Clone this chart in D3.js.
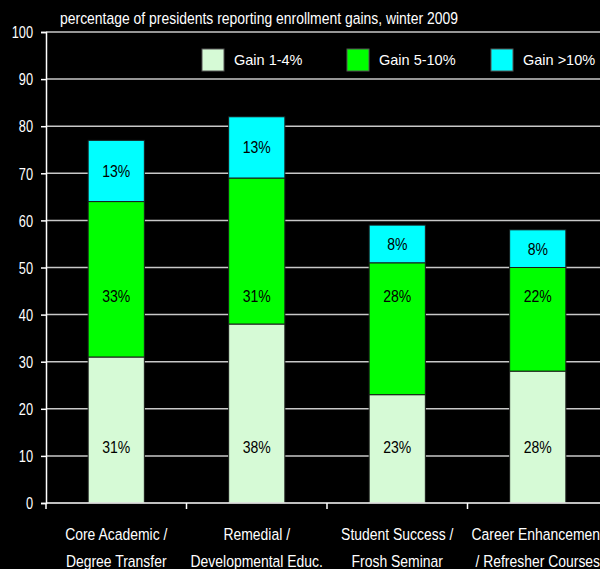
<!DOCTYPE html>
<html>
<head>
<meta charset="utf-8">
<script src="https://cdn.jsdelivr.net/npm/d3@7"></script>
<style>
  body { margin: 0; background: #000; overflow: hidden; }
  text { font-family: "Liberation Sans", Arial, sans-serif; }
</style>
</head>
<body>
<svg class="chart"></svg>
<script>
// chart data
var categories = [
  ["Core Academic /", "Degree Transfer"],
  ["Remedial   /", "Developmental Educ."],
  ["Student Success /", "Frosh Seminar"],
  ["Career Enhancement", "/ Refresher Courses"]
];
var seriesNames = ["Gain 1-4%", "Gain 5-10%", "Gain >10%"];
var gainLow = [31, 38, 23, 28];
var gainMid = [33, 31, 28, 22];
var gainHigh = [13, 13, 8, 8];
var yTicks = [0, 10, 20, 30, 40, 50, 60, 70, 80, 90, 100];
var colors = ["#d6fad6", "#00ff00", "#00ffff"];

// label heights for the lower two series sit at a fixed value (as in the source)
var labelLevel = [11.8, 44, null];

// squeeze factor to mimic a narrow font
var narrow = 0.82;

// define margins
var margin = {top: 32, right: 0, bottom: 66, left: 46},
  width = 562,
  height = 471;

var svg = d3.select(".chart")
  .attr("width", 600)
  .attr("height", 569);

svg.append("rect").attr("width", 600).attr("height", 569).attr("fill", "#000");

var chart = svg.append("g")
  .attr("transform", "translate(" + margin.left + "," + margin.top + ")");

var x = d3.scaleBand()
  .domain(d3.range(categories.length))
  .range([0, width])
  .paddingInner(0.6)
  .paddingOuter(0.3);

var y = d3.scaleLinear()
  .domain([0, 100])
  .range([height, 0]);

// narrow text helper
function narrowText(sel, px, py, k) {
  return sel.attr("transform", function(d, i) {
    return "translate(" + px(d, i) + "," + py(d, i) + ") scale(" + (k || narrow) + ",1)";
  });
}

// gridlines
chart.selectAll(".grid")
  .data(yTicks.slice(1))
  .enter().append("line")
  .attr("x1", 0)
  .attr("x2", 600)
  .attr("y1", function(d) { return y(d); })
  .attr("y2", function(d) { return y(d); })
  .attr("stroke", "#c8c8c8")
  .attr("stroke-width", 1.5);

// stack data
var rows = categories.map(function(c, i) {
  return {i: i, a: gainLow[i], b: gainMid[i], c: gainHigh[i]};
});
var stack = d3.stack().keys(["a", "b", "c"])(rows);

var layers = chart.selectAll(".layer")
  .data(stack)
  .enter().append("g")
  .attr("fill", function(d, k) { return colors[k]; });

layers.selectAll("rect")
  .data(function(d) { return d; })
  .enter().append("rect")
  .attr("x", function(d) { return x(d.data.i); })
  .attr("y", function(d) { return y(d[1]); })
  .attr("height", function(d) { return y(d[0]) - y(d[1]); })
  .attr("width", x.bandwidth())
  .attr("stroke", "#1a1a1a")
  .attr("stroke-width", 1);

layers.each(function(layer, k) {
  var t = d3.select(this).selectAll("text")
    .data(layer)
    .enter().append("text")
    .attr("text-anchor", "middle")
    .attr("fill", "#000")
    .style("font-size", "16.5px")
    .text(function(d) { return (d[1] - d[0]) + "%"; });
  narrowText(t,
    function(d) { return x(d.data.i) + x.bandwidth() / 2; },
    function(d) {
      var v = labelLevel[k] != null ? labelLevel[k] : (d[0] + d[1]) / 2;
      return y(v) + 6;
    }, 0.85);
});

// y axis
var yAxis = d3.axisLeft(y).tickValues(yTicks).tickSize(5).tickPadding(7);
var yg = chart.append("g").call(yAxis);
yg.select(".domain").attr("stroke", "#fff").attr("stroke-width", 1.5);
yg.selectAll(".tick line").attr("stroke", "#fff").attr("stroke-width", 1.5);
yg.selectAll(".tick text")
  .attr("x", 0)
  .attr("dy", "0.36em")
  .attr("transform", "translate(-13,0) scale(0.8,1)")
  .attr("fill", "#fff")
  .style("font-family", "'Liberation Sans', Arial, sans-serif")
  .style("font-size", "16px");

// x axis
chart.append("line")
  .attr("x1", 0).attr("x2", 600)
  .attr("y1", height).attr("y2", height)
  .attr("stroke", "#fff").attr("stroke-width", 1.5);

var step = x.step();
chart.selectAll(".xtick")
  .data(d3.range(categories.length))
  .enter().append("line")
  .attr("x1", function(d) { return x(d) - x.paddingInner() * step / 2; })
  .attr("x2", function(d) { return x(d) - x.paddingInner() * step / 2; })
  .attr("y1", height)
  .attr("y2", height + 6)
  .attr("stroke", "#fff")
  .attr("stroke-width", 1.5);

[0, 1].forEach(function(line) {
  var t = chart.selectAll(".xlabel" + line)
    .data(categories)
    .enter().append("text")
    .attr("fill", "#fff")
    .attr("text-anchor", "middle")
    .style("font-size", "17px")
    .text(function(d) { return d[line]; });
  narrowText(t,
    function(d, i) { return x(i) + x.bandwidth() / 2; },
    function() { return height + 37 + line * 27; });
});

// title
svg.append("text")
  .attr("transform", "translate(60,24) scale(" + narrow + ",1)")
  .attr("fill", "#fff")
  .style("font-size", "17px")
  .text("percentage of presidents reporting enrollment gains, winter 2009");

// legend
var legendX = [202, 347, 491];
var legend = svg.selectAll(".legend")
  .data(seriesNames)
  .enter().append("g")
  .attr("transform", function(d, i) { return "translate(" + legendX[i] + ",49)"; });

legend.append("rect")
  .attr("width", 22)
  .attr("height", 22)
  .attr("fill", function(d, i) { return colors[i]; })
  .attr("stroke", "#555");

legend.append("text")
  .attr("x", 32)
  .attr("y", 16)
  .attr("fill", "#fff")
  .style("font-size", "14.5px")
  .text(function(d) { return d; });
</script>
</body>
</html>
